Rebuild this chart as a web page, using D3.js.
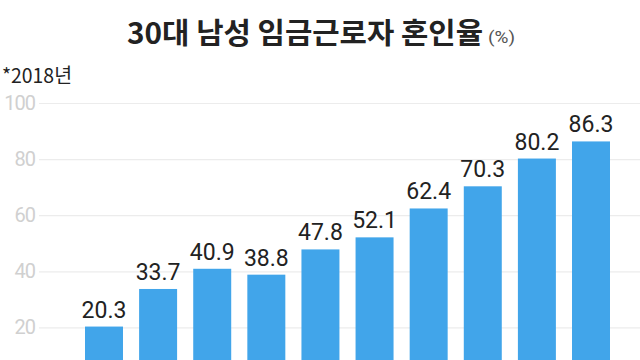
<!DOCTYPE html>
<html>
<head>
<meta charset="utf-8">
<script src="https://cdn.jsdelivr.net/npm/d3@7"></script>
<style>
  html, body { margin: 0; padding: 0; background: #fff; }
  svg { display: block; }
</style>
</head>
<body>
<div id="chart"></div>
<script>
const categories = ['1분위', '2분위', '3분위', '4분위', '5분위', '6분위', '7분위', '8분위', '9분위', '10분위'];
const values = [20.3, 33.7, 40.9, 38.8, 47.8, 52.1, 62.4, 70.3, 80.2, 86.3];
const yTicks = [20, 40, 60, 80, 100];

const width = 640, height = 360;
const margin = { top: 103, left: 39 };
const zeroY = 383.5;

const svg = d3.select('#chart').append('svg')
  .attr('width', width)
  .attr('height', height)
  .attr('viewBox', [0, 0, width, height].join(' '));

// Scales
const y = d3.scaleLinear()
  .domain([0, 100])
  .range([zeroY, margin.top]);

const x = d3.scaleBand()
  .domain(categories)
  .range([85, 610])
  .paddingInner(0.298)
  .paddingOuter(0);

// Gridlines + tick labels
const yAxis = svg.append('g')
  .attr('transform', `translate(${margin.left},0)`)
  .call(d3.axisLeft(y).tickValues(yTicks).tickSize(-(width - margin.left)).tickPadding(4))
  .call(g => g.select('.domain').remove());

yAxis.selectAll('.tick line')
  .attr('stroke', '#ececec')
  .attr('stroke-width', 1.2);

yAxis.selectAll('.tick text')
  .attr('fill', '#d0d0d0')
  .style('font-family', 'Roboto, sans-serif')
  .style('font-size', '20px')
  .style('letter-spacing', '-1px');

// Bars
svg.append('g').selectAll('rect')
  .data(values)
  .enter()
  .append('rect')
  .attr('x', (d, i) => x(categories[i]))
  .attr('width', x.bandwidth())
  .attr('y', d => y(d))
  .attr('height', d => zeroY - y(d))
  .attr('fill', '#41a5ea');

// Value labels
svg.append('g').selectAll('text')
  .data(values)
  .enter()
  .append('text')
  .attr('x', (d, i) => x(categories[i]) + x.bandwidth() / 2)
  .attr('y', d => y(d) - 9)
  .attr('text-anchor', 'middle')
  .attr('fill', '#222')
  .style('font-family', 'Roboto, sans-serif')
  .style('font-size', '23px')
  .text(d => d.toFixed(1));

// Title
svg.append('text')
  .attr('x', 127)
  .attr('y', 44)
  .attr('fill', '#222')
  .attr('textLength', 356)
  .attr('lengthAdjust', 'spacingAndGlyphs')
  .style('font-family', '"Noto Sans CJK KR", sans-serif')
  .style('font-weight', 'bold')
  .style('font-size', '29px')
  .text('30대 남성 임금근로자 혼인율');

svg.append('text')
  .attr('x', 488)
  .attr('y', 43)
  .attr('fill', '#555')
  .attr('textLength', 27)
  .attr('lengthAdjust', 'spacingAndGlyphs')
  .style('font-family', 'Roboto, sans-serif')
  .style('font-size', '16px')
  .text('(%)');

// Note
svg.append('text')
  .attr('x', 2)
  .attr('y', 83)
  .attr('fill', '#222')
  .attr('textLength', 70)
  .attr('lengthAdjust', 'spacingAndGlyphs')
  .style('font-family', '"Noto Sans CJK KR", sans-serif')
  .style('font-size', '20px')
  .text('*2018년');
</script>
</body>
</html>
